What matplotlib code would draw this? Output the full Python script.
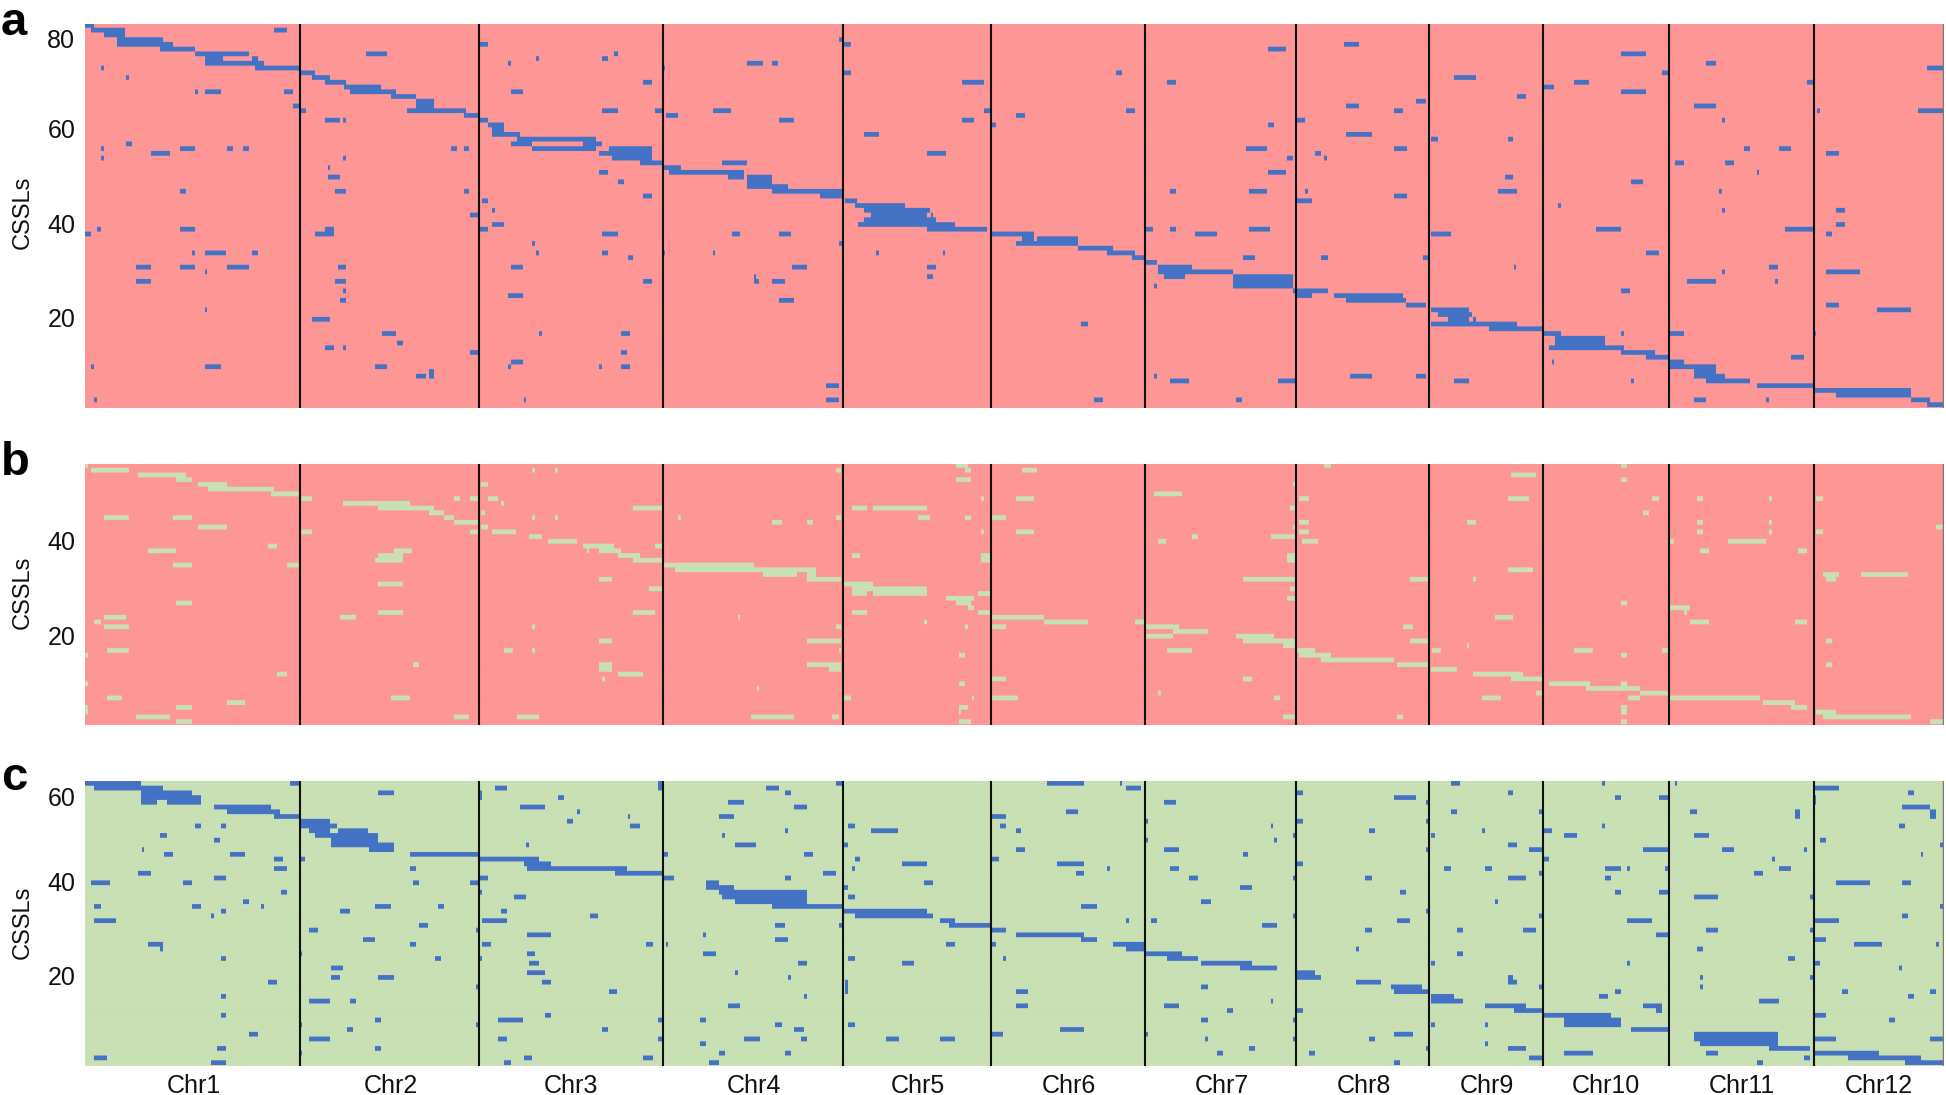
import matplotlib
matplotlib.use("Agg")
import matplotlib.pyplot as plt
import numpy as np
from matplotlib.colors import LinearSegmentedColormap

plt.rcParams["font.family"] = ["Liberation Sans", "DejaVu Sans"]

W, H = 1946, 1095
LEFT, RIGHT = 85, 1944

chr_names = ["Chr1", "Chr2", "Chr3", "Chr4", "Chr5", "Chr6", "Chr7", "Chr8", "Chr9", "Chr10", "Chr11", "Chr12"]
chr_ends = [215, 394, 578, 758, 906, 1060, 1211, 1344, 1458, 1584, 1729, 1858]
chr_label_pos = [109, 306, 486, 669, 833, 984, 1137, 1279, 1402, 1521, 1657, 1794]

# every row: (line, start, end, start, end, ...)
# start/end read along the genome in chunks, see CHUNKS below
a_left = [
    (0, 202, 224), (1, 217, 298, 652, 681), (2, 247, 298), (3, 277, 388), (4, 277, 411, 1141, 1160),
    (5, 381, 463), (6, 464, 591, 869, 920, 1459, 1468), (7, 487, 530, 599, 613, 1274, 1281, 1430, 1445),
    (8, 487, 628, 1206, 1213), (9, 239, 246, 607, 710), (10, 714, 748), (11, 299, 306, 742, 785),
    (12, 772, 823, 1528, 1550), (13, 817, 905), (14, 464, 471, 487, 524, 674, 696, 832, 942, 1214, 1243),
    (15, 929, 988), (16, 989, 1032), (17, 697, 711, 989, 1032), (18, 714, 726, 967, 1107, 1430, 1468, 1558, 1568),
    (19, 1102, 1138), (20, 772, 808, 815, 823, 1141, 1160), (21, 1160, 1197), (22, 1168, 1197), (23, 1168, 1235),
    (24, 1228, 1415), (25, 299, 314, 1214, 1265, 1386, 1430),
    (26, 239, 246, 427, 463, 539, 553, 577, 591, 1072, 1085, 1102, 1115, 1265, 1415, 1446, 1550),
    (27, 359, 403, 1424, 1550), (28, 239, 246, 815, 823, 1454, 1550), (29, 1521, 1568), (30, 779, 785),
    (31, 1424, 1445), (32, 779, 808), (33, 1469, 1482), (35, 427, 441, 795, 823, 1102, 1115), (36, 1528, 1550),
    (37, 1145, 1160), (39, 1168, 1175), (40, 1116, 1138), (42, 1168, 1197), (43, 231, 239, 427, 463, 772, 793, 1141, 1160),
    (44, 202, 216, 749, 793, 1430, 1468), (46, 1265, 1272), (48, 457, 464, 487, 538, 599, 613, 1274, 1281, 1430, 1445),
    (49, 1491, 1505), (51, 322, 358, 427, 463, 539, 591, 802, 823, 1214, 1243), (52, 487, 493),
    (54, 322, 358, 795, 823, 1528, 1550), (56, 815, 823), (57, 1206, 1243), (58, 809, 823), (60, 487, 493),
    (62, 742, 785), (65, 907, 942, 1281, 1287, 1476, 1498), (67, 944, 958), (68, 772, 793, 815, 823),
    (69, 1116, 1138, 1476, 1490), (71, 1214, 1243), (72, 217, 224, 487, 524, 892, 920, 1206, 1213, 1424, 1430, 1476, 1498),
    (73, 1019, 1032), (74, 989, 1011, 1019, 1032), (79, 224, 231, 1244, 1250),
]
a_mid = [
    (3, 449, 457), (4, 460, 478), (5, 1468, 1512), (8, 231, 268, 291, 305), (9, 28, 36), (10, 460, 478, 1108, 1122),
    (12, 741, 793, 1228, 1250), (18, 13, 28, 149, 193, 794, 807, 1131, 1152), (19, 37, 66, 869, 890),
    (20, 306, 343, 741, 770, 1538, 1557), (21, 812, 823, 1469, 1482), (23, 508, 545), (26, 458, 462, 1416, 1467),
    (27, 658, 703), (28, 1513, 1527), (29, 0, 30, 171, 230), (30, 32, 73), (31, 45, 223, 1468, 1512),
    (32, 186, 223, 231, 291), (33, 231, 291), (34, 231, 328), (35, 291, 458, 1235, 1250, 1423, 1467, 1557, 1564),
    (36, 404, 460), (37, 464, 492, 1538, 1568), (38, 487, 605), (39, 508, 665), (40, 524, 658, 667, 673),
    (41, 508, 680), (42, 494, 725), (43, 458, 462, 658, 800, 1179, 1196, 1235, 1250, 1423, 1474),
    (44, 194, 215, 306, 335, 812, 912, 1296, 1347), (45, 458, 462, 884, 912, 920, 1017), (46, 449, 457, 869, 1017),
    (47, 1018, 1100), (48, 30, 36, 149, 155, 538, 544, 696, 702, 1087, 1152), (49, 1145, 1175, 1408, 1437),
    (50, 1177, 1205), (51, 337, 373, 658, 680, 1206, 1287), (52, 1206, 1385), (53, 246, 252, 658, 673, 1221, 1272, 1385, 1527),
    (54, 246, 260, 291, 320, 1385, 1527), (55, 1198, 1205, 1385, 1527), (56, 1528, 1568), (57, 1538, 1568),
    (58, 306, 343), (63, 1025, 1040), (74, 1198, 1205), (75, 1235, 1280, 1491, 1535), (76, 419, 448),
    (79, 419, 448, 1055, 1077, 1393, 1407),
]
a_right = [
    (4, 128, 165), (6, 791, 851), (8, 995, 1017), (9, 1523, 1560), (10, 889, 904), (11, 392, 444),
    (12, 678, 715, 1236, 1250), (13, 606, 632), (14, 791, 851), (15, 543, 565), (16, 301, 324), (17, 135, 165, 965, 1017),
    (18, 249, 271, 1260, 1266, 1500, 1560), (20, 18, 37, 1033, 1039), (23, 135, 195), (24, 336, 354, 520, 534),
    (26, 249, 279, 1085, 1100, 1168, 1198), (27, 60, 75, 1281, 1311), (28, 0, 6, 82, 89), (29, 919, 942, 1040, 1062),
    (31, 1115, 1122), (32, 513, 534), (33, 814, 843), (35, 37, 44, 497, 542, 1025, 1032), (36, 249, 279), (37, 18, 52),
    (38, 641, 647), (39, 1033, 1039, 1304, 1326), (42, 1304, 1326), (43, 731, 790, 1183, 1250), (44, 336, 384, 1281, 1296),
    (48, 851, 881), (49, 75, 90, 317, 331), (51, 535, 541, 1146, 1167), (52, 1033, 1039, 1281, 1363),
    (54, 950, 1017, 1160, 1167), (56, 8, 90, 791, 813), (57, 18, 52, 105, 270), (58, 135, 278), (59, 278, 324, 1281, 1311),
    (60, 336, 429, 1402, 1484), (61, 354, 436), (62, 377, 429, 437, 444), (63, 336, 542), (64, 475, 603),
    (65, 606, 648, 791, 798, 907, 942, 1253, 1258), (66, 633, 752), (67, 633, 752), (68, 618, 798), (69, 791, 873),
    (70, 851, 904, 1198, 1228), (71, 625, 632, 907, 942), (72, 907, 1017), (73, 965, 1017), (74, 143, 195, 301, 324, 965, 1040),
    (75, 0, 15, 392, 429, 814, 821, 995, 1100), (76, 1115, 1250), (77, 1255, 1484), (78, 1304, 1484),
    (79, 965, 995, 1138, 1145, 1485, 1530), (80, 1523, 1560),
]

b_left = [
    (0, 202, 209), (1, 217, 306, 1265, 1272, 1318, 1325), (2, 329, 441), (3, 419, 456), (4, 471, 539, 1142, 1160),
    (5, 494, 651), (6, 644, 710), (7, 716, 741, 1079, 1093, 1116, 1138, 1160, 1183), (8, 816, 973, 1190, 1197),
    (9, 899, 1032, 1505, 1568), (10, 1019, 1055, 1142, 1153), (11, 247, 306, 411, 456, 1056, 1078, 1265, 1272, 1318, 1325),
    (12, 1079, 1138), (13, 471, 539, 1142, 1160), (14, 716, 741, 1116, 1138, 1168, 1227), (15, 1258, 1287), (16, 1303, 1370),
    (17, 637, 658, 1386, 1460, 1558, 1568), (18, 352, 419, 936, 980, 1394, 1400, 1424, 1475), (19, 899, 958, 1468, 1520),
    (20, 892, 958, 1505, 1568), (21, 411, 456, 681, 710), (24, 1424, 1453), (25, 899, 958), (26, 1543, 1568), (29, 419, 456),
    (31, 899, 958, 1505, 1557), (32, 247, 299, 809, 846), (33, 224, 239), (34, 247, 306, 1265, 1272), (37, 1424, 1453),
    (39, 254, 306, 1198, 1220, 1265, 1272), (40, 202, 209), (42, 981, 995, 1424, 1453), (43, 1424, 1453),
    (44, 659, 681, 1468, 1528), (45, 1431, 1438), (46, 202, 209), (49, 254, 291, 929, 973), (50, 539, 583),
    (51, 202, 209, 419, 456), (52, 202, 209), (53, 322, 404, 1079, 1115, 1228, 1281), (54, 419, 456),
]
b_mid = [
    (0, 726, 755), (1, 441, 455, 748, 763, 883, 920), (3, 726, 763), (4, 1528, 1535), (6, 1198, 1265),
    (7, 786, 793, 869, 912, 1543, 1565), (9, 0, 28, 479, 516, 531, 658, 1520, 1535),
    (11, 67, 73, 441, 455, 636, 665, 749, 763, 813, 845), (12, 291, 313, 374, 388, 1543, 1565), (13, 1528, 1535),
    (14, 786, 793, 869, 912, 1543, 1565), (15, 1288, 1302, 1475, 1535), (16, 1206, 1227, 1550, 1568), (17, 13, 28),
    (19, 479, 500, 786, 807, 1513, 1535), (20, 0, 28, 786, 807, 1513, 1535), (21, 33, 246), (22, 59, 395),
    (23, 268, 350, 374, 395), (24, 374, 455, 1408, 1535), (25, 461, 530), (26, 0, 28, 479, 530, 531, 658, 1520, 1535),
    (27, 479, 516, 531, 658, 779, 807), (28, 703, 770, 1513, 1535), (29, 726, 763), (30, 756, 770), (31, 0, 13, 479, 516, 779, 807),
    (32, 209, 215, 813, 935), (33, 651, 658, 936, 1040, 1153, 1175), (34, 441, 455, 748, 755, 813, 845, 1179, 1257),
    (35, 1243, 1325), (36, 1179, 1243, 1393, 1482), (37, 374, 455, 1408, 1535), (38, 1505, 1535),
    (39, 449, 455, 1228, 1287, 1538, 1568), (40, 733, 748, 1543, 1568), (42, 374, 455), (43, 426, 455),
    (45, 813, 845, 1408, 1430), (46, 733, 748), (47, 254, 260), (48, 1206, 1213), (49, 461, 478, 764, 770, 813, 875, 1483, 1497),
    (51, 733, 755), (52, 733, 740), (53, 239, 343, 433, 448, 1505, 1535), (54, 733, 763),
]
b_right = [
    (0, 82, 97, 791, 806), (2, 527, 587), (3, 791, 806), (4, 8, 13), (7, 22, 44, 520, 572, 866, 881, 972, 987, 1146, 1152, 1256, 1273),
    (9, 0, 13), (10, 844, 858), (12, 22, 44, 422, 444, 972, 987, 1146, 1152), (13, 8, 13, 1545, 1560),
    (14, 22, 44, 972, 987, 1146, 1152, 1256, 1273), (15, 0, 13), (16, 30, 67, 908, 918, 1048, 1138), (18, 980, 1002, 1213, 1235),
    (19, 0, 13), (20, 0, 13), (22, 520, 580), (23, 1273, 1311, 1364, 1477), (24, 0, 13, 286, 330, 437, 444, 1281, 1304),
    (26, 0, 13), (28, 0, 13), (29, 791, 806), (30, 908, 957), (31, 942, 949), (32, 490, 534), (33, 957, 1002, 1206, 1236),
    (34, 271, 293), (37, 0, 13, 286, 330, 1281, 1296), (38, 0, 13, 422, 429), (39, 20, 60, 339, 361, 678, 723, 889, 904),
    (40, 22, 97, 791, 806), (41, 75, 248), (42, 256, 330, 1281, 1296), (43, 337, 399), (44, 437, 557), (45, 527, 602),
    (46, 618, 716, 791, 806), (47, 708, 836), (48, 587, 602, 836, 904), (49, 459, 504, 807, 836, 908, 1123), (50, 1131, 1206),
    (51, 791, 806, 1198, 1236), (52, 791, 806, 1256, 1304), (53, 0, 13, 256, 271, 1273, 1484), (54, 791, 806, 1530, 1560),
]

c_left = [
    (0, 202, 336, 689, 711, 1565, 1568), (1, 224, 388, 1176, 1205), (2, 336, 456, 899, 936, 1140, 1145),
    (3, 336, 478, 1140, 1145, 1326, 1340), (4, 336, 373, 397, 478), (5, 509, 643, 1235, 1295), (6, 539, 666, 1371, 1377),
    (7, 652, 711, 1491, 1497), (8, 716, 785, 1348, 1362), (9, 464, 478, 524, 538, 716, 800, 1498, 1520), (10, 734, 785, 802, 875),
    (11, 381, 396, 749, 898), (12, 509, 523, 786, 898), (13, 786, 935, 1250, 1257), (14, 337, 343, 877, 935),
    (15, 389, 411, 547, 583, 974, 1138), (16, 652, 673, 716, 725, 1141, 1280), (17, 1244, 1310), (18, 652, 681, 974, 988, 1251, 1490),
    (19, 329, 358, 1461, 1568), (20, 509, 538, 1141, 1160), (21, 217, 261, 434, 456, 981, 995, 1116, 1138), (23, 667, 681, 1140, 1145),
    (24, 1221, 1250), (25, 577, 591), (26, 224, 239, 457, 478, 621, 628, 892, 928, 1041, 1055), (27, 524, 538, 809, 831, 1191, 1205),
    (28, 501, 508, 1401, 1422), (29, 224, 276, 1146, 1205), (30, 996, 1018), (31, 734, 755, 1131, 1138), (32, 1251, 1310),
    (33, 862, 890), (34, 352, 388, 974, 988, 1146, 1167, 1536, 1550), (35, 381, 388), (36, 713, 718, 1251, 1272),
    (37, 524, 538, 1034, 1048, 1140, 1145), (38, 1258, 1280), (39, 786, 815), (40, 1251, 1295), (41, 786, 808, 899, 936),
    (42, 637, 658, 1288, 1310), (43, 1131, 1138), (44, 1446, 1467), (45, 524, 538), (46, 734, 785, 832, 846),
    (49, 524, 538, 1296, 1310), (50, 892, 906, 1183, 1243, 1565, 1568), (51, 713, 718, 1131, 1138), (52, 824, 838, 1431, 1445),
    (53, 592, 613), (54, 734, 785, 1183, 1205, 1565, 1568), (56, 516, 538, 892, 906), (57, 713, 718),
    (58, 224, 254, 1244, 1265, 1528, 1550), (59, 501, 538, 1198, 1213),
]
c_mid = [
    (0, 20, 28, 441, 457, 943, 1032, 1116, 1122), (1, 20, 28, 276, 306, 458, 462, 1131, 1167), (2, 321, 336, 1538, 1550),
    (4, 186, 223, 1221, 1250), (5, 343, 373), (6, 988, 1018), (7, 164, 200, 812, 845), (8, 1178, 1183, 1538, 1550),
    (9, 471, 486, 831, 845, 1475, 1481), (10, 321, 328, 524, 590, 869, 882), (11, 171, 178, 1528, 1535), (12, 1178, 1183, 1483, 1490),
    (13, 201, 253, 458, 470), (14, 869, 890, 1221, 1257), (15, 33, 43, 366, 388, 1408, 1422), (16, 486, 500, 812, 830),
    (17, 599, 658, 966, 1032, 1538, 1550), (18, 479, 486, 1086, 1092, 1235, 1257), (19, 0, 28, 411, 441, 1011, 1032),
    (20, 33, 58, 321, 336, 1281, 1302, 1528, 1535), (21, 134, 163, 651, 673), (22, 134, 200, 458, 470, 1401, 1430), (23, 164, 373),
    (24, 171, 373, 471, 486), (25, 201, 373, 1310, 1332), (26, 291, 458, 1025, 1062), (27, 459, 658), (28, 486, 673, 1528, 1535),
    (29, 688, 725, 1131, 1137, 1190, 1205), (30, 298, 321, 449, 457, 711, 807, 1453, 1490), (31, 812, 845), (32, 126, 133, 869, 1032),
    (33, 298, 328, 1025, 1062), (34, 0, 6, 37, 43, 458, 462, 703, 725, 812, 823, 1101, 1175), (35, 1131, 1175), (36, 126, 156, 1179, 1265),
    (37, 471, 486, 839, 845, 1228, 1302), (38, 351, 373, 599, 628, 1310, 1430), (39, 1401, 1490), (40, 201, 208, 1538, 1568),
    (41, 328, 335, 1538, 1568), (42, 463, 470), (43, 463, 470, 1310, 1325), (44, 463, 470, 869, 897), (45, 366, 373), (46, 1475, 1481),
    (47, 186, 215, 869, 897, 1221, 1257), (48, 1371, 1385, 1538, 1550), (50, 20, 28, 119, 133, 1310, 1325, 1528, 1535),
    (51, 298, 313, 471, 486), (52, 343, 365, 973, 1032), (53, 812, 838, 1178, 1183),
    (54, 20, 28, 224, 261, 358, 373, 561, 591, 688, 725, 1318, 1325, 1528, 1535), (55, 119, 133), (56, 1423, 1437),
    (57, 164, 178, 321, 336, 1348, 1362, 1565, 1568), (58, 0, 6), (59, 141, 164),
]
c_right = [
    (0, 384, 406, 746, 753, 919, 926), (1, 1255, 1311), (2, 18, 30, 520, 534, 1477, 1492), (3, 249, 301, 776, 791, 882, 904, 1253, 1258),
    (4, 324, 331, 1253, 1258), (5, 1462, 1530), (6, 384, 399, 595, 603, 957, 972, 1206, 1220, 1530, 1545), (7, 1206, 1220, 1530, 1545),
    (8, 18, 30, 324, 331), (9, 746, 753, 1455, 1470), (10, 188, 203, 460, 466, 606, 625), (11, 8, 15, 336, 347, 656, 685, 965, 1002),
    (12, 1266, 1281), (13, 520, 542, 1553, 1560), (14, 324, 331, 572, 603, 844, 904, 1033, 1062, 1229, 1236), (15, 1508, 1514),
    (16, 606, 618, 1153, 1160), (17, 18, 30), (18, 369, 384, 467, 482, 754, 790, 806, 813, 897, 904, 1168, 1198), (19, 595, 603, 1108, 1130),
    (20, 8, 15, 180, 195, 520, 565, 754, 768), (21, 1304, 1386, 1462, 1484), (23, 263, 278, 776, 791, 882, 904), (24, 965, 1024, 1243, 1250),
    (25, 490, 496), (26, 1553, 1560), (27, 324, 331), (28, 8, 15, 595, 603, 1462, 1477), (29, 256, 286, 806, 866, 1255, 1311),
    (31, 180, 195, 399, 414, 558, 587, 995, 1024, 1243, 1250), (32, 874, 904), (33, 1255, 1281), (34, 1349, 1416, 1545, 1552),
    (35, 158, 165, 972, 987), (36, 399, 414), (37, 1191, 1206), (38, 336, 347, 806, 813, 1255, 1266), (39, 1455, 1462), (40, 18, 60),
    (41, 18, 75, 520, 534, 980, 987, 1243, 1250), (42, 158, 218, 520, 542), (43, 241, 316, 595, 603, 980, 987),
    (44, 248, 331, 776, 791, 1319, 1334, 1530, 1545), (45, 336, 391, 739, 761, 1477, 1492), (46, 336, 414, 1122, 1168), (47, 467, 565, 844, 889),
    (48, 18, 30, 535, 603, 874, 889), (49, 606, 768, 1255, 1281), (50, 8, 15, 656, 791, 1432, 1447), (51, 336, 347, 467, 474, 656, 791),
    (52, 814, 904), (53, 249, 294, 965, 1167), (54, 8, 15, 188, 203, 965, 1167, 1255, 1304, 1530, 1560), (55, 467, 474, 980, 1167),
    (56, 324, 331, 520, 565, 1146, 1243), (57, 45, 60, 656, 723, 995, 1024, 1255, 1408), (58, 572, 603, 1229, 1243, 1334, 1507),
    (59, 249, 263, 1115, 1130, 1470, 1560),
]

ticks_a, tick_lines_a = ["80", "60", "40", "20"], [2.6, 21.6, 41.7, 61.6]
ticks_b, tick_lines_b = ["40", "20"], [15.8, 35.8]
ticks_c, tick_lines_c = ["60", "40", "20"], [2.75, 20.75, 40.75]

RED = "#FE9696"
GREEN = "#C8E0B4"
BLUE = "#4472C4"

# (origin, units per column) of the three chunks the values were read in
CHUNKS = [(0, 2.376), (650, 2.376), (1290, 2.39)]
N_COLS = RIGHT - LEFT
SUB = 5  # sub rows per line, only so the bilinear smoothing stays about 1 px wide


def build_matrix(n_rows, chunks):
    m = np.zeros((n_rows, N_COLS))
    for rows, (origin, scale) in zip(chunks, CHUNKS):
        for row in rows:
            line = row[0]
            vals = row[1:]
            for s, e in zip(vals[::2], vals[1::2]):
                c0 = int(round(s / scale + origin - LEFT))
                c1 = int(round(e / scale + origin - LEFT))
                m[line, max(c0, 0):max(c1, 0)] = 1
    return np.repeat(m, SUB, axis=0)


def panel(fig, top, bottom, n_rows, n_visible, chunks, back, fore, ticks, tick_lines, letter, letter_y, ylabel_y, chr_labels=False):
    ax = fig.add_axes([LEFT / W, 1 - bottom / H, (RIGHT - LEFT) / W, (bottom - top) / H])
    m = build_matrix(n_rows, chunks)
    ax.set_facecolor(back)
    cmap = LinearSegmentedColormap.from_list("pair", [back, fore])
    ax.imshow(m, aspect="auto", cmap=cmap, vmin=0, vmax=1, interpolation="bilinear",
              extent=(0, N_COLS, n_rows - 0.5, -0.5))
    ax.set_xlim(0, N_COLS)
    ax.set_ylim(n_visible - 0.5, -0.5)
    for x in chr_ends[:-1]:
        ax.axvline(x, color="#111111", lw=1.5)
    ax.axvline(chr_ends[-1], color="#777777", lw=1)
    for s in ax.spines.values():
        s.set_visible(False)
    ax.set_yticks(tick_lines)
    ax.set_yticklabels(ticks, fontsize=18, color="#111111")
    ax.tick_params(axis="y", length=0, pad=7)
    if chr_labels:
        ax.set_xticks(chr_label_pos)
        ax.set_xticklabels(chr_names, fontsize=18, color="#111111")
        ax.tick_params(axis="x", length=0, pad=6)
    else:
        ax.set_xticks([])
    fig.text(1 / W, 1 - letter_y / H, letter, fontsize=34, fontweight="bold", ha="left", va="baseline")
    fig.text(23 / W, 1 - ylabel_y / H, "CSSLs", fontsize=17, rotation=90, ha="center", va="center", color="#111111")
    return ax


def main():
    fig = plt.figure(figsize=(W / 100, H / 100), dpi=100)
    panel(fig, 23.7, 408.3, 81, 81.27, [a_left, a_mid, a_right], RED, BLUE, ticks_a, tick_lines_a, "a", 35, 212)
    panel(fig, 463.7, 725.3, 55, 55.3, [b_left, b_mid, b_right], RED, GREEN, ticks_b, tick_lines_b, "b", 475, 592)
    panel(fig, 780.7, 1066, 60, 60.3, [c_left, c_mid, c_right], GREEN, BLUE, ticks_c, tick_lines_c, "c", 790, 922, chr_labels=True)
    fig.savefig("out.png", dpi=100)


if __name__ == "__main__":
    main()
